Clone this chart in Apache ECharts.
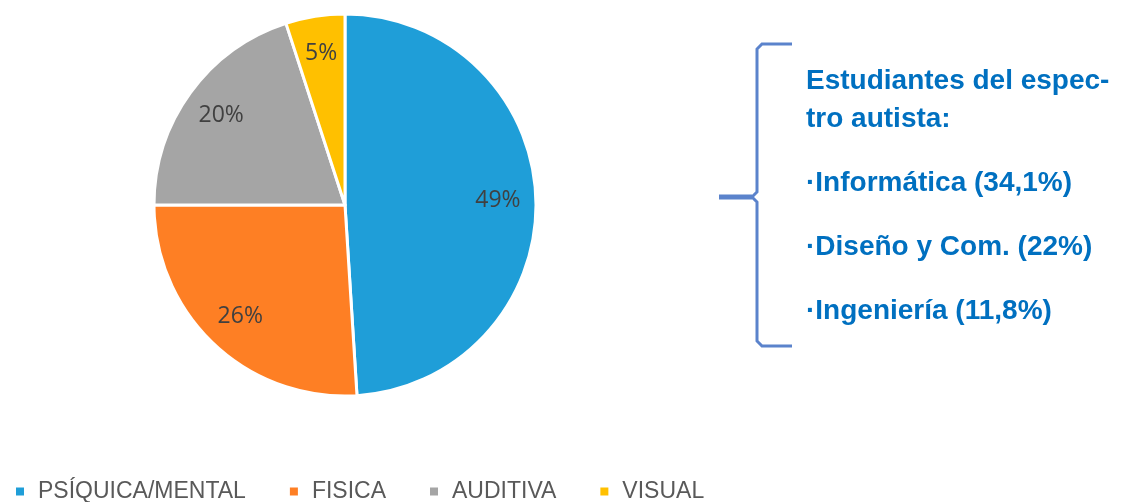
<!DOCTYPE html>
<html>
<head>
<meta charset="utf-8">
<script src="https://cdn.jsdelivr.net/npm/echarts@6/dist/echarts.min.js"></script>
<style>
    html, body { margin: 0; padding: 0; background: #fff; }
    #chart { width: 1121px; height: 502px; }
</style>
</head>
<body>
<div id="chart"></div>
<script>
// 分类与占比
const categories = ['PSÍQUICA/MENTAL', 'FISICA', 'AUDITIVA', 'VISUAL']
const values = [49, 26, 20, 5]
const colors = ['#1f9ed8', '#fe7f24', '#a5a5a5', '#ffc000']
// 右侧说明文字
const noteLines = [
    'Estudiantes del espec-',
    'tro autista:',
    '·Informática (34,1%)',
    '·Diseño y Com. (22%)',
    '·Ingeniería (11,8%)'
]
const noteY = [84, 122, 186, 250, 314]

const pieData = categories.map((name, i) => ({ name, value: values[i] }))
const braceColor = '#5b83cc'

let myChart = echarts.init(document.getElementById('chart'))
let options = {
    animation: false,
    color: colors,
    legend: {
        left: 9,
        top: 475,
        itemWidth: 10,
        itemHeight: 10,
        itemGap: 42,
        icon: 'rect',
        textStyle: {
            fontFamily: 'Liberation Sans',
            fontSize: 23,
            color: '#595959',
            padding: [0, 0, 0, 8]
        },
        data: categories
    },
    series: [{
        type: 'pie',
        center: [345, 205],
        radius: 191,
        startAngle: 90,
        clockwise: true,
        itemStyle: { borderColor: '#fff', borderWidth: 3 },
        label: { show: false },
        labelLine: { show: false },
        emphasis: { disabled: true },
        data: pieData
    }, {
        // 透明细环，只用来放百分比标签（约0.78半径处）
        type: 'pie',
        center: [345, 205],
        radius: [140, 160],
        startAngle: 90,
        clockwise: true,
        silent: true,
        itemStyle: { color: 'rgba(0,0,0,0)', borderWidth: 0 },
        label: {
            show: true,
            position: 'inside',
            formatter: '{c}%',
            fontFamily: 'Open Sans',
            fontSize: 23,
            color: '#404040'
        },
        labelLine: { show: false },
        emphasis: { disabled: true },
        data: pieData
    }],
    graphic: [
        // 大括号
        {
            type: 'polyline',
            shape: { points: [[792, 44], [762, 44], [757, 49], [757, 192], [752, 197], [757, 202], [757, 341], [762, 346], [792, 346]] },
            style: { stroke: braceColor, lineWidth: 3, fill: null }
        },
        {
            type: 'line',
            shape: { x1: 719, y1: 197, x2: 752, y2: 197 },
            style: { stroke: braceColor, lineWidth: 5 }
        }
    ].concat(noteLines.map((t, i) => ({
        type: 'text',
        left: 806,
        top: noteY[i] - 17,
        style: {
            text: t,
            fontFamily: 'Liberation Sans',
            fontWeight: 'bold',
            fontSize: 28,
            fill: '#0070c0'
        }
    })))
}
myChart.setOption(options)
</script>
</body>
</html>
